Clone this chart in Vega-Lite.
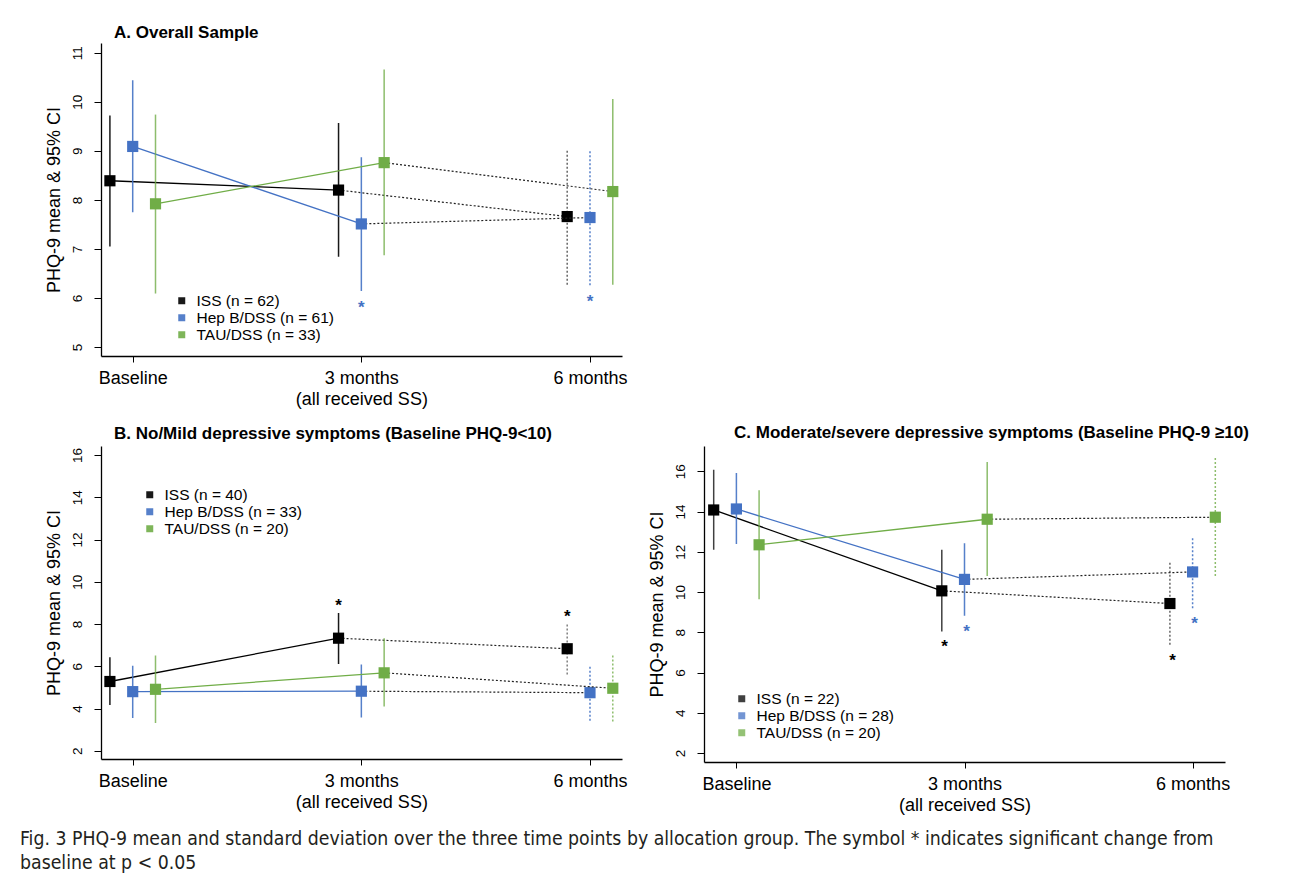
{
  "$schema": "https://vega.github.io/schema/vega-lite/v6.json",
  "padding": {"left": 20, "top": 24, "right": 5, "bottom": 5},
  "background": "white",
  "datasets": {
    "A": [
      {"time": "Baseline", "month": 0, "group": "ISS", "label": "ISS (n = 62)", "mean": 8.39, "lo": 7.05, "hi": 9.72, "sig": false},
      {"time": "3 months", "month": 3, "group": "ISS", "label": "ISS (n = 62)", "mean": 8.2, "lo": 6.84, "hi": 9.57, "sig": false},
      {"time": "6 months", "month": 6, "group": "ISS", "label": "ISS (n = 62)", "mean": 7.66, "lo": 6.27, "hi": 9.04, "sig": false},
      {"time": "Baseline", "month": 0, "group": "Hep B/DSS", "label": "Hep B/DSS (n = 61)", "mean": 9.09, "lo": 7.75, "hi": 10.44, "sig": false},
      {"time": "3 months", "month": 3, "group": "Hep B/DSS", "label": "Hep B/DSS (n = 61)", "mean": 7.51, "lo": 6.14, "hi": 8.87, "sig": true},
      {"time": "6 months", "month": 6, "group": "Hep B/DSS", "label": "Hep B/DSS (n = 61)", "mean": 7.64, "lo": 6.26, "hi": 9.03, "sig": true},
      {"time": "Baseline", "month": 0, "group": "TAU/DSS", "label": "TAU/DSS (n = 33)", "mean": 7.92, "lo": 6.09, "hi": 9.74, "sig": false},
      {"time": "3 months", "month": 3, "group": "TAU/DSS", "label": "TAU/DSS (n = 33)", "mean": 8.76, "lo": 6.87, "hi": 10.66, "sig": false},
      {"time": "6 months", "month": 6, "group": "TAU/DSS", "label": "TAU/DSS (n = 33)", "mean": 8.17, "lo": 6.27, "hi": 10.06, "sig": false}
    ],
    "B": [
      {"time": "Baseline", "month": 0, "group": "ISS", "label": "ISS (n = 40)", "mean": 5.28, "lo": 4.17, "hi": 6.43, "sig": false},
      {"time": "3 months", "month": 3, "group": "ISS", "label": "ISS (n = 40)", "mean": 7.33, "lo": 6.11, "hi": 8.52, "sig": true},
      {"time": "6 months", "month": 6, "group": "ISS", "label": "ISS (n = 40)", "mean": 6.83, "lo": 5.61, "hi": 7.98, "sig": true},
      {"time": "Baseline", "month": 0, "group": "Hep B/DSS", "label": "Hep B/DSS (n = 33)", "mean": 4.8, "lo": 3.55, "hi": 6.03, "sig": false},
      {"time": "3 months", "month": 3, "group": "Hep B/DSS", "label": "Hep B/DSS (n = 33)", "mean": 4.82, "lo": 3.58, "hi": 6.08, "sig": false},
      {"time": "6 months", "month": 6, "group": "Hep B/DSS", "label": "Hep B/DSS (n = 33)", "mean": 4.75, "lo": 3.42, "hi": 6.03, "sig": false},
      {"time": "Baseline", "month": 0, "group": "TAU/DSS", "label": "TAU/DSS (n = 20)", "mean": 4.91, "lo": 3.31, "hi": 6.51, "sig": false},
      {"time": "3 months", "month": 3, "group": "TAU/DSS", "label": "TAU/DSS (n = 20)", "mean": 5.69, "lo": 4.09, "hi": 7.33, "sig": false},
      {"time": "6 months", "month": 6, "group": "TAU/DSS", "label": "TAU/DSS (n = 20)", "mean": 4.96, "lo": 3.38, "hi": 6.56, "sig": false}
    ],
    "C": [
      {"time": "Baseline", "month": 0, "group": "ISS", "label": "ISS (n = 22)", "mean": 14.08, "lo": 12.1, "hi": 16.08, "sig": false},
      {"time": "3 months", "month": 3, "group": "ISS", "label": "ISS (n = 22)", "mean": 10.06, "lo": 8.04, "hi": 12.1, "sig": true},
      {"time": "6 months", "month": 6, "group": "ISS", "label": "ISS (n = 22)", "mean": 9.43, "lo": 7.38, "hi": 11.5, "sig": true},
      {"time": "Baseline", "month": 0, "group": "Hep B/DSS", "label": "Hep B/DSS (n = 28)", "mean": 14.13, "lo": 12.39, "hi": 15.92, "sig": false},
      {"time": "3 months", "month": 3, "group": "Hep B/DSS", "label": "Hep B/DSS (n = 28)", "mean": 10.63, "lo": 8.82, "hi": 12.42, "sig": true},
      {"time": "6 months", "month": 6, "group": "Hep B/DSS", "label": "Hep B/DSS (n = 28)", "mean": 11.0, "lo": 9.19, "hi": 12.77, "sig": true},
      {"time": "Baseline", "month": 0, "group": "TAU/DSS", "label": "TAU/DSS (n = 20)", "mean": 12.35, "lo": 9.64, "hi": 15.06, "sig": false},
      {"time": "3 months", "month": 3, "group": "TAU/DSS", "label": "TAU/DSS (n = 20)", "mean": 13.62, "lo": 10.8, "hi": 16.46, "sig": false},
      {"time": "6 months", "month": 6, "group": "TAU/DSS", "label": "TAU/DSS (n = 20)", "mean": 13.72, "lo": 10.8, "hi": 16.66, "sig": false}
    ]
  },
  "title": {
    "text": ["Fig. 3 PHQ-9 mean and standard deviation over the three time points by allocation group. The symbol * indicates significant change from", "baseline at p < 0.05"],
    "orient": "bottom", "anchor": "start", "frame": "bounds",
    "font": "Liberation Sans Narrow, DejaVu Sans Condensed, sans-serif",
    "fontSize": 19.3, "fontWeight": "normal", "color": "#231f20",
    "lineHeight": 24, "offset": 16, "dx": -25
  },
  "spacing": 16,
  "resolve": {"scale": {"color": "independent"}, "legend": {"color": "independent"}},
  "vconcat": [
    {
      "width": 521, "height": 313,
      "title": {"text": "A. Overall Sample", "anchor": "start", "frame": "group", "dx": 13, "offset": 1},
      "data": {"name": "A"},
      "encoding": {
        "x": {"field": "month", "type": "quantitative",
          "scale": {"domain": [-0.416, 6.42], "nice": false, "zero": false},
          "axis": {"title": null, "values": [0, 3, 6], "labelAngle": 0, "labelFontSize": 18, "labelPadding": 7, "tickSize": 6, "labelLineHeight": 21, "labelFlush": false,
            "labelExpr": "datum.value == 0 ? 'Baseline' : datum.value == 3 ? ['3 months', '(all received SS)'] : '6 months'"}},
        "y": {"field": "mean", "type": "quantitative",
          "scale": {"domain": [4.816, 11.2], "nice": false, "zero": false},
          "axis": {"title": "PHQ-9 mean & 95% CI", "values": [5, 6, 7, 8, 9, 10, 11]}},
        "color": {"field": "label", "type": "nominal",
          "scale": {"domain": ["ISS (n = 62)", "Hep B/DSS (n = 61)", "TAU/DSS (n = 33)"], "range": ["#000000", "#4472C4", "#70AD47"]},
          "legend": {"legendX": 73, "legendY": 250}}
      },
      "layer": [
        {
          "transform": [{"filter": "datum.group == 'ISS'"}],
          "layer": [
            {"mark": {"type": "rule", "strokeWidth": 1.5, "xOffset": -22.8},
             "encoding": {"y": {"field": "lo", "type": "quantitative"}, "y2": {"field": "hi"},
               "strokeDash": {"condition": {"test": "datum.month == 6", "value": [2, 2]}, "value": [1, 0]},
               "opacity": {"condition": {"test": "datum.month == 6", "value": 0.6}, "value": 0.9}}},
            {"transform": [{"filter": "datum.month < 6"}], "mark": {"type": "line", "strokeWidth": 1.3, "xOffset": -22.8}, "encoding": {}},
            {"transform": [{"filter": "datum.month > 0"}], "mark": {"type": "line", "strokeWidth": 1.2, "strokeDash": [2, 2], "xOffset": -22.8}, "encoding": {"color": {"value": "#222222"}}},
            {"mark": {"type": "point", "shape": "square", "filled": true, "size": 125, "opacity": 1, "xOffset": -22.8}, "encoding": {}}
          ]
        },
        {
          "transform": [{"filter": "datum.group == 'Hep B/DSS'"}],
          "layer": [
            {"mark": {"type": "rule", "strokeWidth": 1.5, "xOffset": 0, "opacity": 0.9},
             "encoding": {"y": {"field": "lo", "type": "quantitative"}, "y2": {"field": "hi"},
               "strokeDash": {"condition": {"test": "datum.month == 6", "value": [2, 2]}, "value": [1, 0]}}},
            {"transform": [{"filter": "datum.month < 6"}], "mark": {"type": "line", "strokeWidth": 1.3, "xOffset": 0}, "encoding": {}},
            {"transform": [{"filter": "datum.month > 0"}], "mark": {"type": "line", "strokeWidth": 1.2, "strokeDash": [2, 2], "xOffset": 0}, "encoding": {"color": {"value": "#222222"}}},
            {"mark": {"type": "point", "shape": "square", "filled": true, "size": 125, "opacity": 1, "xOffset": 0}, "encoding": {}},
            {"transform": [{"filter": "datum.sig"}], "mark": {"type": "text", "text": "*", "fontSize": 17, "fontWeight": "bold", "dy": 17, "xOffset": 0},
             "encoding": {"y": {"field": "lo", "type": "quantitative"}}}
          ]
        },
        {
          "transform": [{"filter": "datum.group == 'TAU/DSS'"}],
          "layer": [
            {"mark": {"type": "rule", "strokeWidth": 1.5, "xOffset": 22.8, "opacity": 0.8},
             "encoding": {"y": {"field": "lo", "type": "quantitative"}, "y2": {"field": "hi"}}},
            {"transform": [{"filter": "datum.month < 6"}], "mark": {"type": "line", "strokeWidth": 1.3, "xOffset": 22.8}, "encoding": {}},
            {"transform": [{"filter": "datum.month > 0"}], "mark": {"type": "line", "strokeWidth": 1.2, "strokeDash": [2, 2], "xOffset": 22.8}, "encoding": {"color": {"value": "#222222"}}},
            {"mark": {"type": "point", "shape": "square", "filled": true, "size": 125, "opacity": 1, "xOffset": 22.8}, "encoding": {}}
          ]
        }
      ]
    },
    {
      "spacing": 20,
      "resolve": {"scale": {"color": "independent"}, "legend": {"color": "independent"}},
      "hconcat": [
        {
          "width": 521, "height": 313,
          "title": {"text": "B. No/Mild depressive symptoms (Baseline PHQ-9<10)", "anchor": "start", "frame": "group", "dx": 13, "offset": 3},
          "data": {"name": "B"},
          "encoding": {
            "x": {"field": "month", "type": "quantitative",
              "scale": {"domain": [-0.416, 6.42], "nice": false, "zero": false},
              "axis": {"title": null, "values": [0, 3, 6], "labelAngle": 0, "labelFontSize": 18, "labelPadding": 7, "tickSize": 6, "labelLineHeight": 21, "labelFlush": false,
                "labelExpr": "datum.value == 0 ? 'Baseline' : datum.value == 3 ? ['3 months', '(all received SS)'] : '6 months'"}},
            "y": {"field": "mean", "type": "quantitative",
              "scale": {"domain": [1.61, 16.43], "nice": false, "zero": false},
              "axis": {"title": "PHQ-9 mean & 95% CI", "values": [2, 4, 6, 8, 10, 12, 14, 16]}},
            "color": {"field": "label", "type": "nominal",
              "scale": {"domain": ["ISS (n = 40)", "Hep B/DSS (n = 33)", "TAU/DSS (n = 20)"], "range": ["#000000", "#4472C4", "#70AD47"]},
              "legend": {"legendX": 41, "legendY": 41}}
          },
          "layer": [
            {
              "transform": [{"filter": "datum.group == 'ISS'"}],
              "layer": [
                {"mark": {"type": "rule", "strokeWidth": 1.5, "xOffset": -22.8},
                 "encoding": {"y": {"field": "lo", "type": "quantitative"}, "y2": {"field": "hi"},
                   "strokeDash": {"condition": {"test": "datum.month == 6", "value": [2, 2]}, "value": [1, 0]},
                   "opacity": {"condition": {"test": "datum.month == 6", "value": 0.5}, "value": 0.9}}},
                {"transform": [{"filter": "datum.month < 6"}], "mark": {"type": "line", "strokeWidth": 1.3, "xOffset": -22.8}, "encoding": {}},
                {"transform": [{"filter": "datum.month > 0"}], "mark": {"type": "line", "strokeWidth": 1.2, "strokeDash": [2, 2], "xOffset": -22.8}, "encoding": {"color": {"value": "#222222"}}},
                {"mark": {"type": "point", "shape": "square", "filled": true, "size": 125, "opacity": 1, "xOffset": -22.8}, "encoding": {}},
                {"transform": [{"filter": "datum.sig"}], "mark": {"type": "text", "text": "*", "fontSize": 17, "fontWeight": "bold", "dy": -7, "xOffset": -22.8},
                 "encoding": {"y": {"field": "hi", "type": "quantitative"}}}
              ]
            },
            {
              "transform": [{"filter": "datum.group == 'Hep B/DSS'"}],
              "layer": [
                {"mark": {"type": "rule", "strokeWidth": 1.5, "xOffset": 0, "opacity": 0.9},
                 "encoding": {"y": {"field": "lo", "type": "quantitative"}, "y2": {"field": "hi"},
                   "strokeDash": {"condition": {"test": "datum.month == 6", "value": [2, 2]}, "value": [1, 0]}}},
                {"transform": [{"filter": "datum.month < 6"}], "mark": {"type": "line", "strokeWidth": 1.3, "xOffset": 0}, "encoding": {}},
                {"transform": [{"filter": "datum.month > 0"}], "mark": {"type": "line", "strokeWidth": 1.2, "strokeDash": [2, 2], "xOffset": 0}, "encoding": {"color": {"value": "#222222"}}},
                {"mark": {"type": "point", "shape": "square", "filled": true, "size": 125, "opacity": 1, "xOffset": 0}, "encoding": {}}
              ]
            },
            {
              "transform": [{"filter": "datum.group == 'TAU/DSS'"}],
              "layer": [
                {"mark": {"type": "rule", "strokeWidth": 1.5, "xOffset": 22.8, "opacity": 0.8},
                 "encoding": {"y": {"field": "lo", "type": "quantitative"}, "y2": {"field": "hi"},
                   "strokeDash": {"condition": {"test": "datum.month == 6", "value": [2, 2]}, "value": [1, 0]}}},
                {"transform": [{"filter": "datum.month < 6"}], "mark": {"type": "line", "strokeWidth": 1.3, "xOffset": 22.8}, "encoding": {}},
                {"transform": [{"filter": "datum.month > 0"}], "mark": {"type": "line", "strokeWidth": 1.2, "strokeDash": [2, 2], "xOffset": 22.8}, "encoding": {"color": {"value": "#222222"}}},
                {"mark": {"type": "point", "shape": "square", "filled": true, "size": 125, "opacity": 1, "xOffset": 22.8}, "encoding": {}}
              ]
            }
          ]
        },
        {
          "width": 521, "height": 316,
          "title": {"text": "C. Moderate/severe depressive symptoms (Baseline PHQ-9 ≥10)", "anchor": "start", "frame": "group", "dx": 30, "offset": 4},
          "data": {"name": "C"},
          "encoding": {
            "x": {"field": "month", "type": "quantitative",
              "scale": {"domain": [-0.426, 6.426], "nice": false, "zero": false},
              "axis": {"title": null, "values": [0, 3, 6], "labelAngle": 0, "labelFontSize": 18, "labelPadding": 7, "tickSize": 6, "labelLineHeight": 21, "labelFlush": false,
                "labelExpr": "datum.value == 0 ? 'Baseline' : datum.value == 3 ? ['3 months', '(all received SS)'] : '6 months'"}},
            "y": {"field": "mean", "type": "quantitative",
              "scale": {"domain": [1.553, 17.26], "nice": false, "zero": false},
              "axis": {"title": "PHQ-9 mean & 95% CI", "values": [2, 4, 6, 8, 10, 12, 14, 16]}},
            "color": {"field": "label", "type": "nominal",
              "scale": {"domain": ["ISS (n = 22)", "Hep B/DSS (n = 28)", "TAU/DSS (n = 20)"], "range": ["#000000", "#4472C4", "#70AD47"]},
              "legend": {"legendX": 30, "legendY": 245}}
          },
          "layer": [
            {
              "transform": [{"filter": "datum.group == 'ISS'"}],
              "layer": [
                {"mark": {"type": "rule", "strokeWidth": 1.5, "xOffset": -22.7},
                 "encoding": {"y": {"field": "lo", "type": "quantitative"}, "y2": {"field": "hi"},
                   "strokeDash": {"condition": {"test": "datum.month == 6", "value": [2, 2]}, "value": [1, 0]},
                   "opacity": {"condition": {"test": "datum.month == 6", "value": 0.6}, "value": 0.75}}},
                {"transform": [{"filter": "datum.month < 6"}], "mark": {"type": "line", "strokeWidth": 1.3, "xOffset": -22.7}, "encoding": {}},
                {"transform": [{"filter": "datum.month > 0"}], "mark": {"type": "line", "strokeWidth": 1.2, "strokeDash": [2, 2], "xOffset": -22.7}, "encoding": {"color": {"value": "#222222"}}},
                {"mark": {"type": "point", "shape": "square", "filled": true, "size": 125, "opacity": 1, "xOffset": -22.7}, "encoding": {}},
                {"transform": [{"filter": "datum.sig"}], "mark": {"type": "text", "text": "*", "fontSize": 17, "fontWeight": "bold", "dy": 16, "xOffset": -20},
                 "encoding": {"y": {"field": "lo", "type": "quantitative"}}}
              ]
            },
            {
              "transform": [{"filter": "datum.group == 'Hep B/DSS'"}],
              "layer": [
                {"mark": {"type": "rule", "strokeWidth": 1.5, "xOffset": 0, "opacity": 0.9},
                 "encoding": {"y": {"field": "lo", "type": "quantitative"}, "y2": {"field": "hi"},
                   "strokeDash": {"condition": {"test": "datum.month == 6", "value": [2, 2]}, "value": [1, 0]}}},
                {"transform": [{"filter": "datum.month < 6"}], "mark": {"type": "line", "strokeWidth": 1.3, "xOffset": 0}, "encoding": {}},
                {"transform": [{"filter": "datum.month > 0"}], "mark": {"type": "line", "strokeWidth": 1.2, "strokeDash": [2, 2], "xOffset": 0}, "encoding": {"color": {"value": "#222222"}}},
                {"mark": {"type": "point", "shape": "square", "filled": true, "size": 125, "opacity": 1, "xOffset": 0}, "encoding": {}},
                {"transform": [{"filter": "datum.sig"}], "mark": {"type": "text", "text": "*", "fontSize": 17, "fontWeight": "bold", "dy": 16, "xOffset": 2},
                 "encoding": {"y": {"field": "lo", "type": "quantitative"}}}
              ]
            },
            {
              "transform": [{"filter": "datum.group == 'TAU/DSS'"}],
              "layer": [
                {"mark": {"type": "rule", "strokeWidth": 1.5, "xOffset": 22.7, "opacity": 0.8},
                 "encoding": {"y": {"field": "lo", "type": "quantitative"}, "y2": {"field": "hi"},
                   "strokeDash": {"condition": {"test": "datum.month == 6", "value": [2, 2]}, "value": [1, 0]}}},
                {"transform": [{"filter": "datum.month < 6"}], "mark": {"type": "line", "strokeWidth": 1.3, "xOffset": 22.7}, "encoding": {}},
                {"transform": [{"filter": "datum.month > 0"}], "mark": {"type": "line", "strokeWidth": 1.2, "strokeDash": [2, 2], "xOffset": 22.7}, "encoding": {"color": {"value": "#222222"}}},
                {"mark": {"type": "point", "shape": "square", "filled": true, "size": 125, "opacity": 1, "xOffset": 22.7}, "encoding": {}}
              ]
            }
          ]
        }
      ]
    }
  ],
  "config": {
    "font": "Liberation Sans",
    "view": {"stroke": null},
    "title": {"font": "Liberation Sans", "fontSize": 17, "fontWeight": "bold", "color": "#000000"},
    "axis": {"domainColor": "#000000", "domainWidth": 1.3, "tickColor": "#000000", "tickWidth": 1, "labelColor": "#000000", "titleColor": "#000000", "grid": false, "labelFont": "Liberation Sans", "titleFont": "Liberation Sans", "titleFontWeight": "normal"},
    "axisY": {"labelAngle": -90, "labelAlign": "center", "labelBaseline": "alphabetic", "labelFontSize": 13.5, "labelPadding": 13, "tickSize": 7, "titleFontSize": 18, "titlePadding": 7},
    "legend": {"orient": "none", "title": null, "symbolType": "square", "symbolSize": 49, "symbolStrokeWidth": 0, "labelFontSize": 15.5, "labelFont": "Liberation Sans", "labelColor": "#000000", "rowPadding": 0, "labelOffset": 7, "padding": 0}
  }
}
